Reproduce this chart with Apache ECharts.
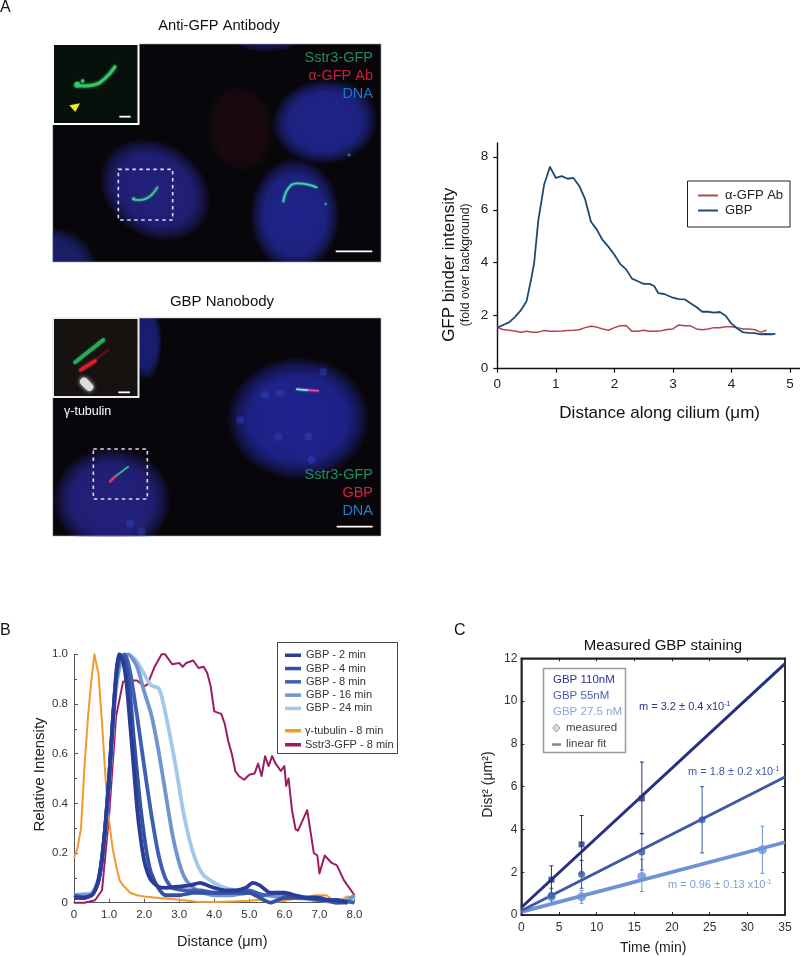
<!DOCTYPE html>
<html><head><meta charset="utf-8">
<style>html,body{margin:0;padding:0;background:#fff}#c{width:800px;height:956px}</style>
<script src="https://cdn.jsdelivr.net/npm/echarts@6/dist/echarts.min.js"></script>
</head><body><div id="c"></div>
<script>
// Panel A: binder intensity profile
const abProfile=[[0,1.55],[0.1,1.48],[0.2,1.45],[0.3,1.42],[0.4,1.38],[0.5,1.41],[0.6,1.38],[0.7,1.38],[0.8,1.44],[0.9,1.41],[1,1.41],[1.1,1.42],[1.2,1.44],[1.3,1.45],[1.4,1.47],[1.5,1.55],[1.6,1.6],[1.7,1.57],[1.8,1.5],[1.9,1.45],[2,1.55],[2.1,1.62],[2.2,1.63],[2.3,1.41],[2.4,1.41],[2.5,1.45],[2.6,1.41],[2.7,1.41],[2.8,1.43],[2.9,1.48],[3,1.5],[3.1,1.65],[3.2,1.62],[3.3,1.62],[3.4,1.5],[3.5,1.47],[3.6,1.5],[3.7,1.55],[3.8,1.55],[3.9,1.58],[4,1.58],[4.1,1.55],[4.2,1.5],[4.3,1.5],[4.4,1.47],[4.5,1.38],[4.6,1.45]];
const gbpProfile=[[0,1.55],[0.1,1.65],[0.2,1.75],[0.3,1.95],[0.4,2.2],[0.5,2.55],[0.58,3.4],[0.63,4],[0.7,5.6],[0.8,6.95],[0.9,7.62],[1,7.2],[1.1,7.27],[1.2,7.17],[1.3,7.2],[1.4,6.9],[1.5,6.4],[1.6,5.55],[1.7,5.25],[1.8,4.85],[1.9,4.6],[2,4.3],[2.1,3.95],[2.2,3.75],[2.3,3.4],[2.4,3.3],[2.5,3.2],[2.6,3.2],[2.68,3.12],[2.75,2.85],[2.85,2.82],[3,2.68],[3.1,2.63],[3.2,2.62],[3.3,2.47],[3.4,2.33],[3.5,2.15],[3.6,2.15],[3.7,2.12],[3.8,2.14],[3.9,2],[4,1.7],[4.1,1.52],[4.2,1.37],[4.3,1.35],[4.4,1.34],[4.5,1.3],[4.6,1.31],[4.7,1.3],[4.75,1.32]];
// Panel B: normalised intensity
const gbp2min=[[0,0.02],[0.3,0.02],[0.5,0.03],[0.6,0.05],[0.7,0.09],[0.8,0.18],[0.9,0.32],[1,0.5],[1.1,0.72],[1.2,0.92],[1.28,1],[1.4,0.97],[1.5,0.88],[1.6,0.72],[1.7,0.55],[1.8,0.38],[1.9,0.26],[2,0.17],[2.1,0.12],[2.2,0.09],[2.4,0.065],[2.6,0.06],[3,0.065],[3.3,0.07],[3.6,0.08],[3.8,0.07],[4,0.06],[4.3,0.05],[4.6,0.05],[4.9,0.06],[5.1,0.08],[5.3,0.07],[5.6,0.04],[6,0.04],[6.3,0.03],[6.6,0.02],[6.9,0.02],[7.1,0.01],[7.5,0.01],[7.8,0]];
const gbp4min=[[0,0.02],[0.3,0.02],[0.5,0.03],[0.6,0.05],[0.7,0.09],[0.8,0.18],[0.9,0.32],[1,0.5],[1.1,0.72],[1.2,0.9],[1.3,1],[1.45,0.98],[1.6,0.84],[1.7,0.67],[1.8,0.52],[1.9,0.38],[2,0.27],[2.1,0.18],[2.2,0.12],[2.4,0.06],[2.6,0.03],[3,0.03],[3.4,0.04],[3.8,0.04],[4.2,0.04],[4.6,0.04],[5,0.04],[5.3,0.02],[5.6,0],[6,0.02],[6.5,0.02],[7,0.02],[7.5,0],[7.8,0]];
const gbp8min=[[0,0.03],[0.3,0.02],[0.5,0.03],[0.6,0.05],[0.7,0.09],[0.8,0.18],[0.9,0.32],[1,0.5],[1.1,0.72],[1.2,0.9],[1.3,0.98],[1.45,1],[1.6,0.93],[1.8,0.75],[2,0.55],[2.2,0.36],[2.4,0.2],[2.6,0.1],[2.8,0.06],[3.2,0.05],[3.6,0.05],[4,0.04],[4.5,0.045],[5,0.05],[5.4,0.03],[5.8,0.04],[6.2,0.03],[6.6,0.02],[7,0.01],[7.5,0.01],[8,0]];
const gbp16min=[[0,0.03],[0.3,0.03],[0.5,0.03],[0.6,0.05],[0.7,0.09],[0.8,0.17],[0.9,0.3],[1,0.48],[1.1,0.7],[1.2,0.88],[1.35,0.98],[1.55,1],[1.8,0.95],[2,0.85],[2.2,0.76],[2.4,0.62],[2.6,0.45],[2.8,0.28],[3,0.16],[3.2,0.09],[3.5,0.05],[4,0.03],[4.5,0.03],[5,0.04],[5.5,0.03],[6,0.02],[6.5,0.02],[7,0.01],[7.5,0],[7.8,0.01],[8,0.03]];
const gbp24min=[[0,0.03],[0.3,0.035],[0.5,0.04],[0.6,0.06],[0.7,0.1],[0.8,0.18],[0.9,0.3],[1,0.48],[1.1,0.68],[1.2,0.86],[1.35,0.97],[1.55,1],[1.8,0.97],[2,0.92],[2.2,0.875],[2.4,0.865],[2.5,0.83],[2.7,0.7],[2.9,0.55],[3.1,0.38],[3.3,0.25],[3.5,0.16],[3.7,0.11],[4,0.08],[4.3,0.06],[4.6,0.05],[5,0.04],[5.4,0.03],[5.8,0.03],[6.2,0.02],[6.6,0.015],[7,0.01],[7.5,0.01],[8,0.005]];
const tubulin8min=[[0,0.18],[0.1,0.22],[0.2,0.3],[0.3,0.55],[0.4,0.75],[0.5,0.9],[0.58,1],[0.7,0.92],[0.8,0.72],[0.9,0.5],[1,0.33],[1.1,0.22],[1.2,0.15],[1.3,0.09],[1.4,0.07],[1.6,0.04],[1.8,0.03],[2,0.025],[2.5,0.018],[3,0.012],[3.5,0.004],[4,0.003],[4.5,0.005],[5,0.008],[5.3,0.012],[5.6,0],[6.5,0.02],[6.9,0.03],[7.2,0.03],[7.4,0.01],[7.6,0.01],[7.8,0.025],[8,0.02]];
const sstr38min=[[0,0],[0.3,0],[0.6,0.01],[0.8,0.05],[1,0.35],[1.2,0.75],[1.4,0.89],[1.6,0.895],[1.8,0.895],[2,0.87],[2.1,0.88],[2.3,0.95],[2.5,1],[2.6,1],[2.8,0.96],[3,0.965],[3.1,0.95],[3.2,0.965],[3.4,0.975],[3.55,0.945],[3.7,0.95],[3.8,0.925],[3.9,0.87],[4,0.77],[4.2,0.76],[4.3,0.72],[4.4,0.65],[4.5,0.6],[4.6,0.53],[4.7,0.51],[4.85,0.495],[5,0.515],[5.15,0.52],[5.25,0.56],[5.35,0.51],[5.45,0.59],[5.55,0.55],[5.65,0.59],[5.75,0.56],[5.9,0.53],[6,0.55],[6.05,0.47],[6.12,0.5],[6.22,0.37],[6.32,0.295],[6.39,0.29],[6.65,0.373],[6.84,0.2],[6.94,0.19],[7,0.118],[7.15,0.19],[7.35,0.16],[7.5,0.15],[7.7,0.09],[8,0.03]];
// Panel C: measured points [time, value], error bars [time, low, high], fit endpoints
const measured110=[[4,1.65],[8,3.3],[16,5.45]];
const measured55=[[4,0.9],[8,1.9],[16,2.95],[24,4.45]];
const measured27=[[4,0.85],[8,0.85],[16,1.8],[32,3.05]];
const errors110=[[4,1,2.3],[8,1.95,4.65],[16,3.8,7.15]];
const errors55=[[4,0.55,1.25],[8,1.25,2.55],[16,2.1,3.8],[24,2.9,6]];
const errors27=[[4,0.5,1.05],[8,0.55,1.15],[16,1.1,2.6],[32,1.95,4.15]];
const fit110=[[0,0.35],[35,11.75]];
const fit55=[[0,0.2],[35,6.45]];
const fit27=[[0,0.15],[35,3.4]];
const timeLabelsB=['0','1.0','2.0','3.0','4.0','5.0','6.0','7.0','8.0'];

const FONT='"Liberation Sans",Arial,sans-serif';
const chart=echarts.init(document.getElementById('c'));

/* ---------- decorative micrograph panels ---------- */
const gfx=[];
const P=(pts,fx,fy)=>pts.map(p=>[fx(p[0]),fy(p[1])]);
const ax=x=>40+x/3, ay=y=>y/3, gy=y=>285+y/3;
function rect(x,y,w,h,fill,extra){gfx.push(Object.assign({type:'rect',shape:{x,y,width:w,height:h},style:{fill}},extra||{}));}
function soft(zx,zy,rx,ry,rot,fy,rgb,a){
  const c=al=>'rgba('+rgb+','+al+')';
  gfx.push({type:'circle',x:ax(zx),y:fy(zy),shape:{cx:0,cy:0,r:rx/3},scaleY:ry/rx,rotation:rot,
    style:{fill:{type:'radial',x:0.5,y:0.5,r:0.5,colorStops:[{offset:0,color:c(a)},{offset:0.68,color:c(a*0.92)},{offset:0.86,color:c(a*0.5)},{offset:1,color:c(0)}]}}});
}
function spot(x,y,r,fy,color,blur){
  gfx.push({type:'circle',shape:{cx:ax(x),cy:fy(y),r},style:{fill:color,shadowBlur:blur,shadowColor:color}});
}
function strand(pts,fy,color,w,blur){
  gfx.push({type:'polyline',shape:{points:P(pts,ax,fy),smooth:0.5},
    style:{stroke:color,lineWidth:w,fill:null,lineCap:'round',shadowBlur:blur,shadowColor:color}});
}
function bar(x1,x2,y,fy,w){gfx.push({type:'line',shape:{x1:ax(x1),y1:fy(y),x2:ax(x2),y2:fy(y)},style:{stroke:'#fff',lineWidth:w}});}
function dash(x1,y1,x2,y2,fy){gfx.push({type:'rect',shape:{x:ax(x1),y:fy(y1),width:(x2-x1)/3,height:(y2-y1)/3},
  style:{fill:null,stroke:'#dcdcf0',lineWidth:1.6,lineDash:[3.5,3.5]}});}
function txt(x,y,text,o){gfx.push({type:'text',x,y,style:Object.assign({text,font:'14px '+FONT,fill:'#222',textAlign:'left',textVerticalAlign:'middle'},o||{})});}

const NUC='36,34,130', NUC2='32,38,145';
// top micrograph
rect(52.7,44,328.3,218,'#08060b');
soft(600,385,105,135,0.1,ay,'70,18,22',0.3);
soft(345,570,178,142,-0.6,ay,NUC,0.95);
soft(855,365,160,128,0.1,ay,NUC2,0.95);
soft(765,645,135,172,0,ay,NUC2,0.95);
soft(30,800,140,120,0,ay,'30,36,125',0.85);
soft(680,125,95,30,0,ay,'24,26,100',0.7);
strand([[280,598],[320,595],[352,562]],ay,'#3cc894',1.8,2);
spot(281,596,1.5,ay,'#3cc894',2);
strand([[730,605],[745,565],[770,550],[830,562]],ay,'#3cd4a4',1.8,2);
spot(857,612,1.2,ay,'#1f9f92',2);spot(927,465,1.1,ay,'#1f9f92',2);
dash(235,508,398,660,ay);
bar(887,997,754,ay,1.8);
// lower micrograph
rect(52.7,318,328.3,218,'#08060b');
soft(318,170,48,115,0,gy,'30,36,140',0.8);
soft(775,400,215,185,0,gy,'32,36,150',0.95);
soft(215,645,178,158,0,gy,NUC,0.95);
[[675,330],[720,325],[600,405],[715,455],[805,455],[815,525],[850,260],[270,715],[305,740]].forEach(s=>spot(s[0],s[1],4,gy,'rgba(50,80,210,0.35)',8));
strand([[770,313],[805,316]],gy,'#8fe8f0',1.5,2);
strand([[805,316],[835,317]],gy,'#e84fae',1.5,2);
strand([[265,545],[225,575]],gy,'#3bb08a',1.4,1);
strand([[225,575],[210,590]],gy,'#e83f6a',1.8,2);
dash(160,492,322,642,gy);
bar(890,998,725,gy,1.8);
// white surround trims soft edges
rect(0,30,52.7,520,'#fff');rect(381,30,50,520,'#fff');rect(40,262,345,56,'#fff');rect(40,0,345,44,'#fff');rect(40,536.5,345,30,'#fff');
// borders
rect(52.7,44,328.3,218,'none',{style:{fill:null,stroke:'#a0a0b8',lineWidth:0.6}});
rect(52.7,318,328.3,218,'none',{style:{fill:null,stroke:'#b4b4c4',lineWidth:0.6}});
// inset top
rect(53,44,85.5,80,'#07100a',{style:{fill:'#07100a',stroke:'#fff',lineWidth:2}});
strand([[108,256],[160,255],[195,235],[225,200]],ay,'#38c766',3,3);
spot(128,243,1.8,ay,'#38c766',2);spot(112,254,2.8,ay,'#38c766',2);
gfx.push({type:'polygon',shape:{points:P([[88,316],[120,310],[106,336]],ax,ay)},style:{fill:'#f7e51d'}});
bar(238,272,350,ay,1.8);
// inset lower
rect(53,318,85.5,79,'#15120f',{style:{fill:'#15120f',stroke:'#eee',lineWidth:2}});
strand([[130,250],[165,225],[205,195]],gy,'rgba(170,20,30,0.5)',2,3);
strand([[122,255],[165,228]],gy,'#d4202c',3.4,3);
strand([[105,232],[190,165]],gy,'#2aa85c',3.6,2);
strand([[132,290],[148,306]],gy,'#dcdcdc',8,4);
bar(235,270,322,gy,1.8);
// micrograph captions
txt(219,26,'Anti-GFP Antibody',{font:'14.7px '+FONT,fill:'#111',textAlign:'center'});
txt(222,302,'GBP Nanobody',{font:'15px '+FONT,fill:'#111',textAlign:'center'});
const rightLabel=(y,t,c)=>txt(373,y,t,{font:'14.5px '+FONT,fill:c,textAlign:'right'});
rightLabel(58,'Sstr3-GFP','#1c8f52');rightLabel(76,'α-GFP Ab','#c4203c');rightLabel(94,'DNA','#2274c4');
rightLabel(475,'Sstr3-GFP','#1c8f62');rightLabel(493,'GBP','#d6263c');rightLabel(511,'DNA','#1f80c4');
txt(64,412,'γ-tubulin',{font:'12.5px '+FONT,fill:'#fff'});
// panel letters
txt(0,8,'A',{font:'16px '+FONT,fill:'#111'});
txt(0,631,'B',{font:'16px '+FONT,fill:'#111'});
txt(454,631,'C',{font:'16px '+FONT,fill:'#111'});
// legend frames (entries come from the ECharts legends)
rect(277.5,642.5,120,111,'none',{style:{fill:null,stroke:'#444',lineWidth:1}});
// panel C key
rect(543.5,668.5,82,84,'none',{style:{fill:null,stroke:'#9a9a9a',lineWidth:1.5}});
const ck=(y,t,c,x)=>txt(x||553,y,t,{font:'11.5px '+FONT,fill:c});
ck(680,'GBP 110nM','#2e3192');ck(696,'GBP 55nM','#4a62b0');ck(712,'GBP 27.5 nM','#86a6dc');
ck(728,'measured','#444',566);ck(744,'linear fit','#444',566);
gfx.push({type:'polygon',shape:{points:[[556.3,724],[560,728],[556.3,732],[552.6,728]]},style:{fill:'#ddd',stroke:'#888',lineWidth:0.8}});
gfx.push({type:'line',shape:{x1:552,y1:744.5,x2:561,y2:744.5},style:{stroke:'#888',lineWidth:2.5}});
function slope(x,y,c,v){
  gfx.push({type:'text',x,y,z:5,style:{text:'m = '+v+' x10{s|-1}',font:'11px '+FONT,fill:c,textVerticalAlign:'middle',
    rich:{s:{fontSize:7,verticalAlign:'top',fill:c,padding:[0,0,5,0],fontFamily:'Liberation Sans'}}}});
}
slope(639,707,'#2e3192','3.2 ± 0.4');
slope(688,772,'#4056a8','1.8 ± 0.2');
slope(668,885,'#7f9cd8','0.96 ± 0.13');

/* ---------- axes ---------- */
const label=(size,color)=>({fontFamily:FONT,fontSize:size,color:color||'#222'});
const grid=[
 {left:497.3,top:143,width:302.7,height:225.7},
 {left:74,top:654.3,width:280.5,height:248.4},
 {left:521.3,top:658.3,width:263.7,height:256.7,show:true,borderColor:'#222',borderWidth:1.5,backgroundColor:'transparent'}
];
const xAxis=[
 {gridIndex:0,type:'value',min:0,max:5.17,interval:1,splitLine:{show:false},
  axisLine:{onZero:false,lineStyle:{color:'#111',width:1.4}},axisTick:{length:4,lineStyle:{color:'#111',width:1.2}},
  axisLabel:Object.assign(label(13.5),{margin:9,showMaxLabel:false}),
  name:'Distance along cilium (μm)',nameLocation:'middle',nameGap:36,nameTextStyle:Object.assign(label(17,'#111'),{padding:[0,0,0,22]})},
 {gridIndex:1,type:'value',min:0,max:8,interval:1,splitLine:{show:false},
  axisLine:{onZero:false,lineStyle:{color:'#555',width:1}},axisTick:{inside:true,length:4,lineStyle:{color:'#555'}},
  axisLabel:Object.assign(label(11.5,'#333'),{margin:6,formatter:(v)=>timeLabelsB[Math.round(v)]}),
  name:'Distance (μm)',nameLocation:'middle',nameGap:32,nameTextStyle:Object.assign(label(14.5,'#222'),{padding:[0,0,0,16]})},
 {gridIndex:2,type:'value',min:0,max:35,interval:5,splitLine:{show:false},
  axisLine:{onZero:false,lineStyle:{color:'#222',width:1.5}},axisTick:{inside:true,length:3,lineStyle:{color:'#222'}},
  axisLabel:Object.assign(label(12,'#333'),{margin:7}),
  name:'Time (min)',nameLocation:'middle',nameGap:26,nameTextStyle:label(14,'#222')},
 {gridIndex:2,type:'value',position:'top',min:0,max:35,interval:5,splitLine:{show:false},
  axisLine:{onZero:false,lineStyle:{color:'#222',width:1.5}},axisTick:{inside:true,length:3,lineStyle:{color:'#222'}},axisLabel:{show:false}}
];
const yAxis=[
 {gridIndex:0,type:'value',min:0,max:8.52,interval:2,splitLine:{show:false},
  axisLine:{onZero:false,lineStyle:{color:'#111',width:1.4}},axisTick:{length:4,lineStyle:{color:'#111',width:1.2}},
  axisLabel:Object.assign(label(13.5),{margin:9,showMaxLabel:false}),
  name:'GFP binder intensity\n{s|(fold over background)}',nameLocation:'middle',nameGap:24,
  nameTextStyle:Object.assign(label(17,'#111'),{lineHeight:18,padding:[0,18,0,0],rich:{s:{fontFamily:FONT,fontSize:12.3,color:'#222',lineHeight:15}}})},
 {gridIndex:1,type:'value',min:0,max:1,interval:0.2,splitLine:{show:false},
  axisLine:{onZero:false,lineStyle:{color:'#555',width:1}},axisTick:{inside:true,length:4,lineStyle:{color:'#555'}},
  minorTick:{show:true,splitNumber:2,length:3,lineStyle:{color:'#555'}},
  axisLabel:Object.assign(label(11.5,'#333'),{margin:6,formatter:v=>v===0?'0':v.toFixed(1)}),
  name:'Relative Intensity',nameLocation:'middle',nameGap:27,nameTextStyle:Object.assign(label(15,'#222'),{padding:[0,0,0,8]})},
 {gridIndex:2,type:'value',min:0,max:12,interval:2,splitLine:{show:false},
  axisLine:{onZero:false,lineStyle:{color:'#222',width:1.5}},axisTick:{inside:true,length:3,lineStyle:{color:'#222'}},
  axisLabel:Object.assign(label(12,'#333'),{margin:4}),
  name:'Dist² (μm²)',nameLocation:'middle',nameGap:26,nameTextStyle:Object.assign(label(14,'#222'),{padding:[0,0,0,4]})},
 {gridIndex:2,type:'value',position:'right',min:0,max:12,interval:2,splitLine:{show:false},
  axisLine:{onZero:false,lineStyle:{color:'#222',width:1.5}},axisTick:{inside:true,length:3,lineStyle:{color:'#222'}},axisLabel:{show:false}}
];

/* ---------- series ---------- */
const line=(name,data,g,color,width,extra)=>Object.assign({name,type:'line',xAxisIndex:g,yAxisIndex:g,data,showSymbol:false,symbol:'none',
  clip:false,lineStyle:{color,width,join:'round'},itemStyle:{color},emphasis:{disabled:true},silent:true},extra||{});
const errSeries=(data,color)=>({type:'custom',xAxisIndex:2,yAxisIndex:2,data,silent:true,clip:false,z:3,
  encode:{x:0,y:[1,2]},
  renderItem:(p,api)=>{
    const a=api.coord([api.value(0),api.value(1)]),b=api.coord([api.value(0),api.value(2)]);
    const st={stroke:color,lineWidth:1};
    return {type:'group',children:[
      {type:'line',shape:{x1:a[0],y1:a[1],x2:b[0],y2:b[1]},style:st},
      {type:'line',shape:{x1:a[0]-2,y1:a[1],x2:a[0]+2,y2:a[1]},style:st},
      {type:'line',shape:{x1:b[0]-2,y1:b[1],x2:b[0]+2,y2:b[1]},style:st}]};
  }});
const pts=(data,color,symbol,size)=>({type:'scatter',xAxisIndex:2,yAxisIndex:2,data,symbol,symbolSize:size,itemStyle:{color},silent:true,z:4});
const C110='#25307f',C55='#3f58a8',C27='#6c93d3';
const curve={smooth:0.2};
const series=[
 line('α-GFP Ab',abProfile,0,'#b5444c',1.5),
 line('GBP',gbpProfile,0,'#1d4a73',1.8),
 line('Sstr3-GFP - 8 min',sstr38min,1,'#9c1c62',2),
 line('γ-tubulin - 8 min',tubulin8min,1,'#f39a2c',2),
 line('GBP - 24 min',gbp24min,1,'#a3c8ea',3.8,curve),
 line('GBP - 16 min',gbp16min,1,'#6f95d0',3.8,curve),
 line('GBP - 8 min',gbp8min,1,'#3f5fb5',3.8,curve),
 line('GBP - 4 min',gbp4min,1,'#3450a4',3.8,curve),
 line('GBP - 2 min',gbp2min,1,'#2a3c96',3.8,curve),
 line('fit 27.5',fit27,2,C27,3.8),
 line('fit 55',fit55,2,C55,3),
 line('fit 110',fit110,2,C110,3),
 errSeries(errors27,C27),errSeries(errors55,C55),errSeries(errors110,C110),
 pts(measured27,C27,'circle',9),pts(measured55,C55,'circle',7),pts(measured110,C110,'rect',6)
];
const legend=[
 {left:698,top:189,orient:'vertical',data:['α-GFP Ab','GBP'],icon:'rect',itemWidth:20,itemHeight:2,itemGap:2,padding:0,selectedMode:false,
  textStyle:Object.assign(label(13,'#222'),{padding:[0,0,0,2]})},
 {left:285,top:649,orient:'vertical',data:['GBP - 2 min','GBP - 4 min','GBP - 8 min','GBP - 16 min','GBP - 24 min'],icon:'rect',itemWidth:16,itemHeight:3.5,itemGap:0.8,padding:0,selectedMode:false,
  textStyle:Object.assign(label(11,'#333'),{padding:[0,0,0,0],height:12.5,lineHeight:12.5})},
 {left:285,top:724.5,orient:'vertical',data:['γ-tubulin - 8 min','Sstr3-GFP - 8 min'],icon:'rect',itemWidth:16,itemHeight:3.5,itemGap:1.5,padding:0,selectedMode:false,
  textStyle:Object.assign(label(11,'#333'),{padding:[0,0,0,-1],height:12.5,lineHeight:12.5})}
];
const title={text:'Measured GBP staining',left:658,top:633,textAlign:'center',textStyle:{fontFamily:FONT,fontSize:15,fontWeight:'normal',color:'#111'}};
// Frame for panel A legend
gfx.push({type:'rect',shape:{x:687.5,y:181,width:102.5,height:46},style:{fill:null,stroke:'#222',lineWidth:1}});
chart.setOption({animation:false,backgroundColor:'#fff',title,grid,xAxis,yAxis,series,legend,graphic:{elements:gfx}});
</script></body></html>
